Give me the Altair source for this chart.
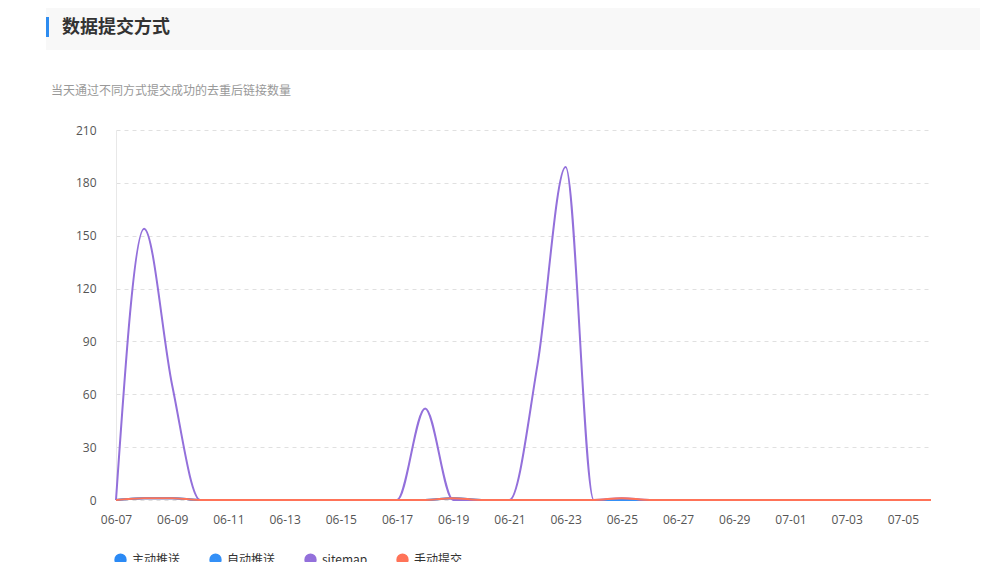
import altair as alt
import pandas as pd

dates = ["06-07", "06-08", "06-09", "06-10", "06-11", "06-12", "06-13", "06-14",
         "06-15", "06-16", "06-17", "06-18", "06-19", "06-20", "06-21", "06-22",
         "06-23", "06-24", "06-25", "06-26", "06-27", "06-28", "06-29", "06-30",
         "07-01", "07-02", "07-03", "07-04", "07-05", "07-06"]
series_names = ["主动推送", "自动推送", "sitemap", "手动提交"]
zhudong = [0, 1, 1, 0, 0, 0, 0, 0, 0, 0, 0, 0, 1, 0, 0, 0, 0, 0, 0, 0, 0, 0, 0, 0, 0, 0, 0, 0, 0, 0]
zidong = [0, 1, 1, 0, 0, 0, 0, 0, 0, 0, 0, 0, 1, 0, 0, 0, 0, 0, 0, 0, 0, 0, 0, 0, 0, 0, 0, 0, 0, 0]
sitemap = [0, 154, 65, 0, 0, 0, 0, 0, 0, 0, 0, 52, 0, 0, 0, 77, 189, 0, 1, 0, 0, 0, 0, 0, 0, 0, 0, 0, 0, 0]
shoudong = [0, 1, 1, 0, 0, 0, 0, 0, 0, 0, 0, 0, 1, 0, 0, 0, 0, 0, 1, 0, 0, 0, 0, 0, 0, 0, 0, 0, 0, 0]
colors = ["#2b8af5", "#3490f7", "#9370db", "#ff7358"]
y_ticks = [0, 30, 60, 90, 120, 150, 180, 210]
x_ticks = dates[::2]

title_text = "数据提交方式"
subtitle_text = "当天通过不同方式提交成功的去重后链接数量"

rows = []
for name, vals in zip(series_names, [zhudong, zidong, sitemap, shoudong]):
    for d, v in zip(dates, vals):
        rows.append({"date": d, "series": name, "value": v})
df = pd.DataFrame(rows)

CJK = "Noto Sans CJK SC"

x_enc = alt.X("date:O", sort=dates,
              scale=alt.Scale(type="point", padding=0),
              axis=alt.Axis(values=x_ticks, title=None, labelAngle=0, ticks=False,
                            domain=False, grid=False, labelPadding=14,
                            labelColor="#555", labelFontSize=12, labelFont="Open Sans"))
y_enc = alt.Y("value:Q", scale=alt.Scale(domain=[0, 210], nice=False),
              axis=alt.Axis(values=y_ticks, title=None, ticks=False,
                            domainColor="#e8e8e8", labelPadding=20,
                            grid=True, gridDash=[4, 4], gridColor="#e0e0e0",
                            labelColor="#555", labelFontSize=12, labelFont="Open Sans"))

# legend symbols: a small circle with a thick stroke reads as a filled dot
legend = alt.Legend(title=None, orient="none", legendX=-2, legendY=423,
                    direction="horizontal", symbolType="circle", gridAlign="each",
                    symbolOpacity=1, symbolStrokeWidth=6, symbolSize=40,
                    labelFont=CJK, labelFontSize=12, labelColor="#333",
                    columnPadding=19, labelOffset=5)

lines = alt.Chart(df).mark_line(interpolate="monotone", strokeWidth=2).encode(
    x=x_enc, y=y_enc,
    color=alt.Color("series:N", sort=series_names,
                    scale=alt.Scale(domain=series_names, range=colors),
                    legend=legend),
)

one = pd.DataFrame({"k": [0]})
header_bg = alt.Chart(one).mark_rect(color="#f8f8f8").encode(
    x=alt.value(-70), x2=alt.value(872), y=alt.value(-126), y2=alt.value(-80))
header_bar = alt.Chart(one).mark_rect(color="#2d8cf0").encode(
    x=alt.value(-70), x2=alt.value(-67), y=alt.value(-113), y2=alt.value(-93))
title = alt.Chart(one).mark_text(align="left", baseline="middle", fontSize=18,
                                 fontWeight="bold", color="#333", font=CJK).encode(
    x=alt.value(-54), y=alt.value(-102), text=alt.value(title_text))
subtitle = alt.Chart(one).mark_text(align="left", baseline="middle", fontSize=12,
                                    color="#999", font=CJK).encode(
    x=alt.value(-65), y=alt.value(-39), text=alt.value(subtitle_text))

chart = alt.layer(header_bg, header_bar, title, subtitle, lines).properties(
    width=815, height=370,
    autosize=alt.AutoSizeParams(type="none"),
    padding={"left": 108, "top": 122, "right": 49, "bottom": 62},
    background="white",
).configure_view(stroke=None)

chart.save("out.html", embed_options={"renderer": "svg", "actions": False})
